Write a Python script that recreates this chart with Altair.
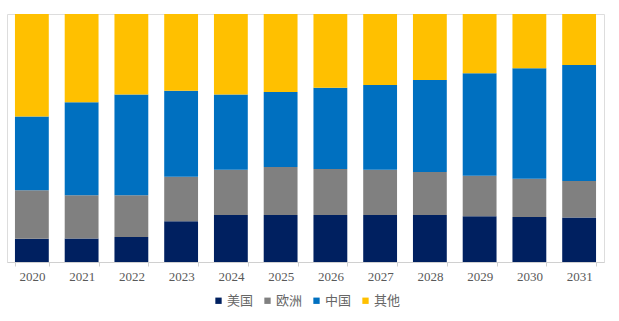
import altair as alt
import pandas as pd

years = ["2020", "2021", "2022", "2023", "2024", "2025", "2026", "2027", "2028", "2029", "2030", "2031"]
series = ["美国", "欧洲", "中国", "其他"]
colors = ["#002060", "#808080", "#0070C0", "#FFC000"]

us     = [9.4, 9.5, 10.1, 16.4, 19.0, 19.0, 19.0, 19.0, 19.0, 18.4, 18.1, 17.9]
europe = [19.5, 17.4, 16.8, 18.0, 18.2, 19.3, 18.5, 18.2, 17.3, 16.4, 15.5, 14.8]
china  = [29.8, 37.5, 40.6, 34.7, 30.3, 30.2, 32.8, 34.2, 37.1, 41.3, 44.5, 46.7]
other  = [41.3, 35.6, 32.5, 30.9, 32.5, 31.5, 29.7, 28.6, 26.6, 23.9, 21.9, 20.6]

rows = []
for i, y in enumerate(years):
    for k, (name, vals) in enumerate(zip(series, [us, europe, china, other])):
        rows.append({"year": y, "series": name, "value": vals[i], "idx": k})
df = pd.DataFrame(rows)

chart = alt.Chart(df).mark_bar().encode(
    x=alt.X("year:N", sort=years, title=None,
            scale=alt.Scale(paddingInner=0.32, paddingOuter=0.16),
            axis=alt.Axis(labelAngle=0, labelFont="Liberation Serif", labelFontSize=13,
                          labelColor="#595959", domainColor="#D0D0D0", tickColor="#D0D0D0",
                          tickSize=4, tickBand="extent", labelPadding=4, grid=False)),
    y=alt.Y("value:Q", stack="normalize", axis=None,
            scale=alt.Scale(domain=[0, 1], nice=False)),
    color=alt.Color("series:N", sort=series,
                    scale=alt.Scale(domain=series, range=colors),
                    legend=alt.Legend(title=None, orient="none", direction="horizontal",
                                      legendX=205, legendY=280,
                                      symbolType="square", symbolSize=40,
                                      symbolStrokeWidth=0, symbolOffset=0,
                                      labelFont="Noto Sans CJK SC", labelFontSize=13,
                                      labelColor="#666666", labelOffset=2,
                                      columnPadding=7)),
    order=alt.Order("idx:Q", sort="ascending"),
).properties(
    width=597, height=248,
    autosize=alt.AutoSizeParams(type="none"),
    padding={"left": 7, "top": 14, "right": 15, "bottom": 59},
).configure_view(stroke=None).configure(background="white")

chart.save("out.html", embed_options={"renderer": "svg", "actions": False})
